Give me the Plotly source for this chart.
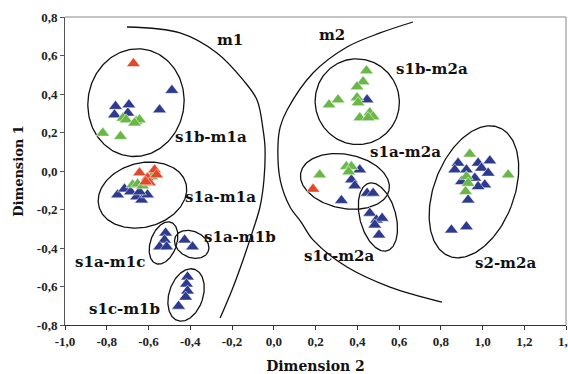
import numpy as np
import plotly.graph_objects as go

# ---------------- data ----------------
blue_x = [-0.758, -0.694, -0.763, -0.699, -0.547, -0.488,
          -0.748, -0.715, -0.686, -0.657, -0.633, -0.605, -0.643,
          -0.518, -0.523, -0.547, -0.513,
          -0.427, -0.389,
          -0.413, -0.418, -0.413, -0.422, -0.456,
          0.447,
          0.412, 0.372, 0.388, 0.324, 0.447, 0.476,
          0.460, 0.492, 0.519, 0.484, 0.504,
          0.883, 0.867, 0.923, 0.979, 1.035, 0.995, 1.027, 0.963, 1.011,
          0.979, 0.899, 0.931, 0.851, 0.923]
blue_y = [0.336, 0.344, 0.292, 0.301, 0.318, 0.419,
          -0.124, -0.093, -0.108, -0.134, -0.150, -0.124, -0.108,
          -0.322, -0.358, -0.394, -0.394,
          -0.358, -0.394,
          -0.550, -0.587, -0.623, -0.655, -0.702,
          0.370,
          0.006, -0.046, -0.077, -0.153, -0.115, -0.115,
          -0.219, -0.254, -0.245, -0.280, -0.332,
          0.041, 0.006, 0.006, 0.041, 0.053, 0.015, -0.011, -0.037, -0.072,
          -0.081, -0.055, -0.150, -0.306, -0.289]

green_x = [-0.723, -0.707, -0.659, -0.643, -0.667, -0.819, -0.734,
           -0.676, -0.652, -0.628, -0.585,
           0.444, 0.428, 0.399, 0.399, 0.404, 0.265, 0.308, 0.412, 0.460,
           0.476, 0.452,
           0.220, 0.348, 0.372, 0.359,
           0.939, 1.123, 0.923, 0.931, 0.919]
green_y = [0.275, 0.266, 0.258, 0.266, 0.250, 0.197, 0.180,
           -0.072, -0.067, -0.077, -0.030,
           0.521, 0.464, 0.438, 0.381, 0.355, 0.344, 0.370, 0.277, 0.303,
           0.282, 0.277,
           -0.020, 0.023, 0.023, -0.004,
           0.088, -0.020, -0.029, -0.063, -0.107]

red_x = [-0.672, -0.643, -0.605, -0.571, -0.561, -0.595, -0.614, 0.188]
red_y = [0.558, -0.009, -0.035, 0.006, -0.020, -0.061, -0.056, -0.094]

# group boundaries (curves)
m1_x = [-0.703, -0.449, -0.272, -0.147, -0.080, -0.051, -0.042, -0.047,
        -0.066, -0.099, -0.147, -0.200, -0.257]
m1_y = [0.748, 0.717, 0.613, 0.473, 0.369, 0.213, 0.125, -0.047,
        -0.187, -0.306, -0.462, -0.618, -0.764]
m2_x = [0.667, 0.509, 0.351, 0.188, 0.064, 0.031, 0.020, 0.031,
        0.078, 0.131, 0.188, 0.351, 0.557, 0.806]
m2_y = [0.774, 0.717, 0.644, 0.509, 0.317, 0.229, 0.125, -0.047,
        -0.187, -0.265, -0.358, -0.499, -0.603, -0.681]

# cluster ellipses: name, centre x, centre y, semi-axes (px), rotation (deg)
ell_names = ["s1b-m1a", "s1a-m1a", "s1a-m1c", "s1a-m1b", "s1c-m1b",
             "s1b-m2a", "s1a-m2a", "s1c-m2a", "s2-m2a"]
ell_cx = [-0.660, -0.629, -0.528, -0.393, -0.420, 0.400, 0.341, 0.499, 0.959]
ell_cy = [0.355, -0.125, -0.374, -0.381, -0.644, 0.360, -0.054, -0.239, -0.108]
ell_a = [48, 45, 13, 18, 17, 42, 45, 18, 40]
ell_b = [54, 32, 22, 13, 27, 43, 27, 35, 69]
ell_rot = [-9, 15, -20, -25, -18, 20, -11, 15, -21]

# text labels
lab_text = ["m1", "m2", "s1b-m1a", "s1a-m1a", "s1a-m1b", "s1a-m1c", "s1c-m1b",
            "s1b-m2a", "s1a-m2a", "s1c-m2a", "s2-m2a"]
lab_x = [-0.212, 0.277, -0.301, -0.257, -0.162, -0.784, -0.713,
         0.758, 0.629, 0.317, 1.108]
lab_y = [0.681, 0.706, 0.177, -0.135, -0.343, -0.473, -0.717,
         0.530, 0.099, -0.442, -0.478]

x_ticks = [-1.0, -0.8, -0.6, -0.4, -0.2, 0.0, 0.2, 0.4, 0.6, 0.8, 1.0, 1.2, 1.4]
y_ticks = [-0.8, -0.6, -0.4, -0.2, 0.0, 0.2, 0.4, 0.6, 0.8]

# ---------------- figure ----------------
W, H = 568, 374
ML, MR, MT, MB = 65, 2, 17, 49
XR = [-1.0, 1.4]
YR = [-0.8, 0.8]
pxx = (W - ML - MR) / (XR[1] - XR[0])
pxy = (H - MT - MB) / (YR[1] - YR[0])

BLUE = "#2e3a8e"
GREEN = "#69b746"
RED = "#e2482a"

fig = go.Figure()

# ellipses
t = np.linspace(0, 2 * np.pi, 181)
for cx, cy, a, b, r in zip(ell_cx, ell_cy, ell_a, ell_b, ell_rot):
    th = np.deg2rad(r)
    dx = a * np.cos(t) * np.cos(th) - b * np.sin(t) * np.sin(th)
    dy = a * np.cos(t) * np.sin(th) + b * np.sin(t) * np.cos(th)
    fig.add_trace(go.Scatter(x=cx + dx / pxx, y=cy + dy / pxy, mode="lines",
                             line=dict(color="#111111", width=1.3),
                             hoverinfo="skip", showlegend=False))

for cxs, cys in [(m1_x, m1_y), (m2_x, m2_y)]:
    fig.add_trace(go.Scatter(x=cxs, y=cys, mode="lines",
                             line=dict(color="#111111", width=1.3, shape="spline"),
                             hoverinfo="skip", showlegend=False))

for xs, ys, col in [(blue_x, blue_y, BLUE), (green_x, green_y, GREEN), (red_x, red_y, RED)]:
    fig.add_trace(go.Scatter(x=xs, y=ys, mode="markers",
                             marker=dict(symbol="triangle-up", size=12, color=col,
                                         line=dict(color="white", width=0.5)),
                             showlegend=False))

for txt, lx, ly in zip(lab_text, lab_x, lab_y):
    fig.add_annotation(x=lx, y=ly, text=f"<b>{txt}</b>", showarrow=False,
                       font=dict(family="DejaVu Serif", size=15, color="#111111"),
                       xanchor="center", yanchor="middle")

# top / right frame (grey)
fig.add_shape(type="line", xref="paper", yref="paper", x0=0, x1=1, y0=1, y1=1,
              line=dict(color="#888888", width=1))
fig.add_shape(type="line", xref="paper", yref="paper", x0=1, x1=1, y0=0, y1=1,
              line=dict(color="#888888", width=1))

tickfont = dict(family="Liberation Serif", size=13, color="#222222")
fig.update_xaxes(range=XR, tickvals=x_ticks,
                 ticktext=[f"<b>{v:.1f}</b>".replace(".", ",") for v in x_ticks],
                 showgrid=False, zeroline=False, showline=True, linecolor="#333333",
                 linewidth=1, ticks="outside", ticklen=4, tickcolor="#333333",
                 tickfont=tickfont, ticklabeloverflow="allow", automargin=False,
                 title=dict(text="<b>Dimension 2</b>",
                            font=dict(family="DejaVu Serif", size=14, color="#111111"),
                            standoff=14))
fig.update_yaxes(range=YR, tickvals=y_ticks,
                 ticktext=[f"<b>{v:.1f}</b>".replace(".", ",") for v in y_ticks],
                 showgrid=False, zeroline=False, showline=True, linecolor="#555555",
                 linewidth=1, ticks="outside", ticklen=4, tickcolor="#555555",
                 tickfont=tickfont, ticklabeloverflow="allow", automargin=False,
                 title=dict(text="<b>Dimension 1</b>",
                            font=dict(family="DejaVu Serif", size=13, color="#111111"),
                            standoff=10))

fig.update_layout(width=W, height=H, margin=dict(l=ML, r=MR, t=MT, b=MB, autoexpand=False),
                  plot_bgcolor="white", paper_bgcolor="white")

fig.write_html("out.html")
